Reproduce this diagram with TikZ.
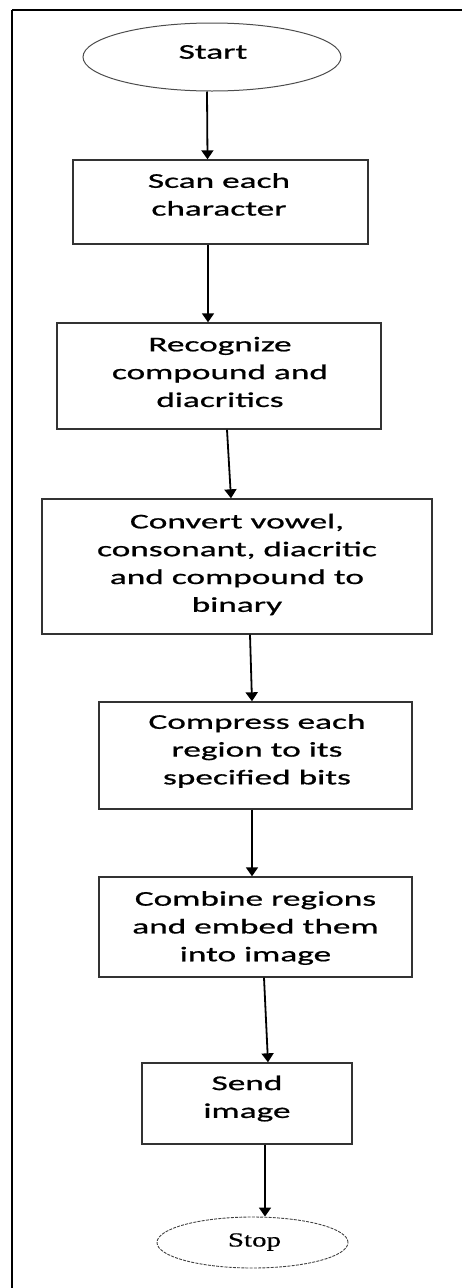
\documentclass[tikz,border=0pt]{standalone}
\usepackage{fontspec}
\setmainfont{Carlito}[FakeStretch=1.68,FakeBold=0.8]
\newfontfamily\stopfont{Liberation Serif}[FakeStretch=1.45,FakeBold=0.6]
\usetikzlibrary{shapes.geometric,arrows.meta}
\begin{document}
\begin{tikzpicture}[x=1pt,y=-1pt,
  txt/.style={font=\fontsize{21}{27.8}\selectfont, align=center, text=black, inner sep=0pt},
  procbox/.style={draw=black!80, line width=1.4pt, rectangle, inner sep=0pt},
  term/.style={ellipse, inner sep=0pt},
  arr/.style={draw=black, line width=1.8pt, -{Triangle[width=12pt,length=9pt]}}]
\useasboundingbox (0,0) rectangle (462,1288);
% frame lines along the top and left edges
\draw[line width=2pt] (12,10) -- (462,10);
\draw[line width=1.4pt] (12,10) -- (12,1288);
% terminals
\node[term, draw=black!70, line width=1pt, minimum width=258pt, minimum height=68pt] (start) at (212,57) {};
\node[txt] (start-t) at (213,52) {Start};
\node[term, draw=black!75, line width=0.9pt, dash pattern=on 3pt off 1.2pt, minimum width=191pt, minimum height=51pt] (stop) at (252.5,1242.5) {};
\node[font=\stopfont\fontsize{20}{22}\selectfont, inner sep=0pt] (stop-t) at (254.5,1242) {Stop};
% process steps
\node[procbox, minimum width=295pt, minimum height=84pt] (s1) at (220.5,202) {};
\node[txt] (s1-t) at (219,194.5) {Scan each\\character};
\node[procbox, minimum width=324pt, minimum height=106pt] (s2) at (219,376) {};
\node[txt] (s2-t) at (220,372) {Recognize\\compound and\\diacritics};
\node[procbox, minimum width=390pt, minimum height=135pt] (s3) at (237,566.5) {};
\node[txt] (s3-t) at (237,564.5) {Convert vowel,\\consonant, diacritic\\and compound to\\binary};
\node[procbox, minimum width=313pt, minimum height=107pt] (s4) at (255.5,755.5) {};
\node[txt] (s4-t) at (257,751) {Compress each\\region to its\\specified bits};
\node[procbox, minimum width=313pt, minimum height=100pt] (s5) at (255.5,927) {};
\node[txt] (s5-t) at (255.5,928) {Combine regions\\and embed them\\into image};
\node[procbox, minimum width=210pt, minimum height=81pt] (s6) at (247,1103.5) {};
\node[txt] (s6-t) at (247,1098.5) {Send\\image};
% connectors
\draw[arr] ([xshift=-5pt]start.south) -- ([xshift=-13pt]s1.north);
\draw[arr] ([xshift=-12.5pt]s1.south) -- ([xshift=-11pt]s2.north);
\draw[arr] ([xshift=8pt]s2.south) -- ([xshift=-6pt]s3.north);
\draw[arr] ([xshift=13pt]s3.south) -- ([xshift=-3.5pt]s4.north);
\draw[arr] ([xshift=-3.5pt]s4.south) -- ([xshift=-3.5pt]s5.north);
\draw[arr] ([xshift=8.5pt]s5.south) -- ([xshift=21pt]s6.north);
\draw[arr] ([xshift=18pt]s6.south) -- ([xshift=12.5pt]stop.north);
\end{tikzpicture}
\end{document}
